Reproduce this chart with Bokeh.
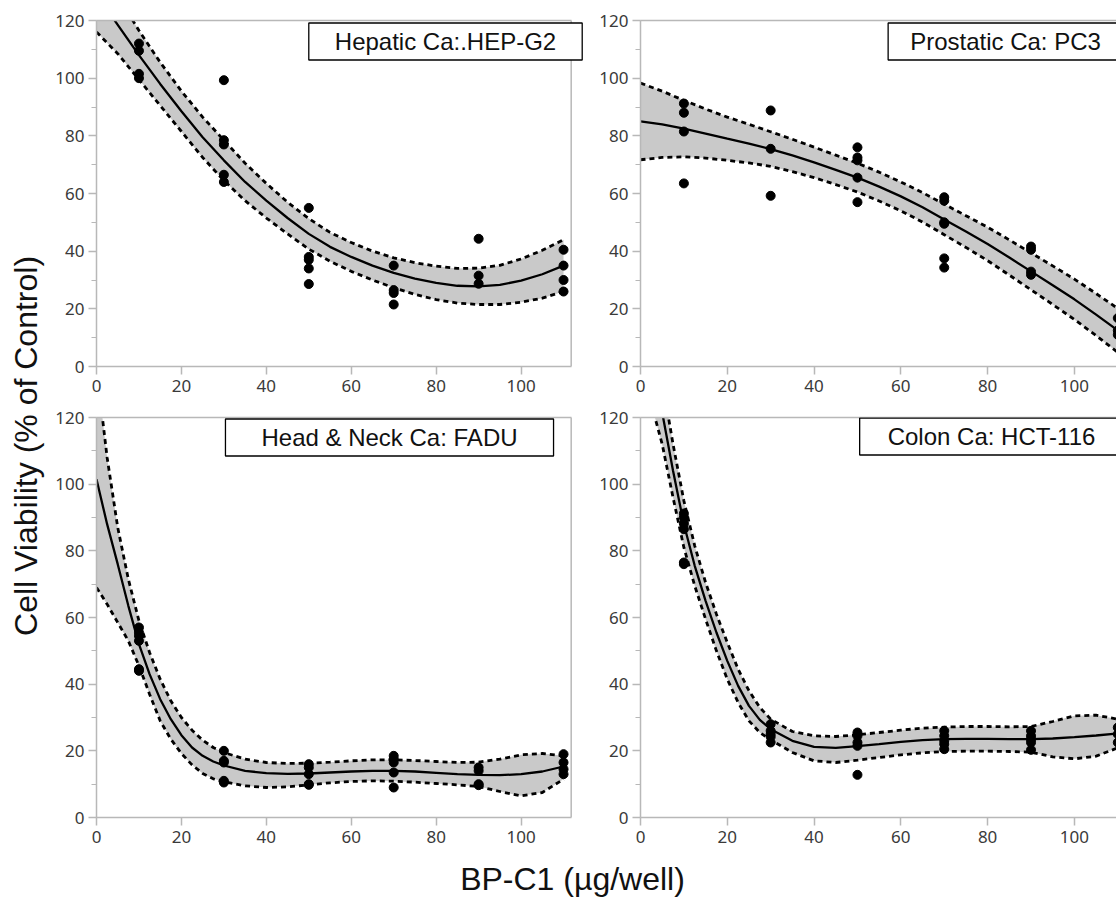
from bokeh.plotting import figure
from bokeh.layouts import row, column
from bokeh.models import Range1d, Label, SingleIntervalTicker, FixedTicker, LinearAxis, Span
from bokeh.embed import file_html
from bokeh.resources import INLINE

# ---------------- data ----------------
titles = ["Hepatic Ca:.HEP-G2", "Prostatic Ca: PC3", "Head & Neck Ca: FADU", "Colon Ca: HCT-116"]
x_label = "BP-C1 (µg/well)"
y_label = "Cell Viability  (% of Control)"

# Hepatic Ca: HEP-G2
hep_dose = [10, 10, 10, 10, 30, 30, 30, 30, 30, 50, 50, 50, 50, 50, 70, 70, 70, 70, 90, 90, 90, 110, 110, 110, 110]
hep_viab = [112, 109.5, 101.5, 100, 99.3, 78.5, 77, 66.5, 64, 55, 38, 37, 34, 28.6, 35, 26.5, 25.5, 21.5, 44.3, 31.5, 28.7, 40.5, 35, 30, 26]
hep_curve_x = [0, 5, 10, 15, 20, 25, 30, 35, 40, 45, 50, 55, 60, 65, 70, 75, 80, 85, 90, 95, 100, 105, 110]
hep_fit = [129, 118.5, 108, 98, 88.5, 79.5, 71.5, 64, 57.5, 51.5, 46, 41.5, 38, 35, 32.5, 30.5, 29, 28, 27.8, 28.3, 29.8, 32, 35]
hep_upper = [142, 128.5, 116.5, 105.5, 95.5, 86.5, 78.5, 70.5, 63.5, 57, 51.3, 46.5, 43, 40, 37.7, 36, 34.8, 34, 34.1, 35.1, 37.3, 40.3, 44]
hep_lower = [116, 108.5, 99.5, 90.5, 81.5, 72.5, 64.5, 57.5, 51.5, 46, 40.7, 36.5, 33, 30, 27.3, 25, 23.2, 22, 21.5, 21.5, 22.3, 23.7, 26]

# Prostatic Ca: PC3
pc3_dose = [10, 10, 10, 10, 30, 30, 30, 50, 50, 50, 50, 50, 70, 70, 70, 70, 70, 70, 90, 90, 90, 90, 110, 110, 110]
pc3_viab = [91.2, 88, 81.5, 63.5, 88.8, 75.5, 59.2, 76, 72.5, 71.5, 65.5, 57, 58.7, 57.5, 50, 49.5, 37.5, 34.3, 41.6, 40.5, 32.9, 31.8, 16.8, 12.5, 11]
pc3_curve_x = [0, 5, 10, 15, 20, 25, 30, 35, 40, 45, 50, 55, 60, 65, 70, 75, 80, 85, 90, 95, 100, 105, 110]
pc3_fit = [85, 84, 82.5, 80.8, 79, 77.3, 75.4, 73.2, 70.8, 68.2, 65.5, 62.4, 59, 55.2, 51, 46.8, 42.5, 37.8, 33, 28.2, 23.3, 18, 12.5]
pc3_upper = [98.3, 95.5, 92.3, 89.3, 86.5, 84.0, 81.4, 78.8, 76.1, 73.3, 70.5, 67.4, 64.0, 60.3, 56.3, 52.3, 48.3, 43.9, 39.4, 34.9, 30.3, 25.3, 20.1]
pc3_lower = [71.7, 72.5, 72.7, 72.3, 71.5, 70.6, 69.4, 67.6, 65.5, 63.1, 60.5, 57.4, 54.0, 50.1, 45.7, 41.3, 36.7, 31.7, 26.6, 21.5, 16.3, 10.7, 4.9]

# Head & Neck Ca: FADU
fadu_dose = [10, 10, 10, 10, 10, 10, 30, 30, 30, 30, 30, 50, 50, 50, 50, 50, 70, 70, 70, 70, 70, 90, 90, 90, 90, 110, 110, 110, 110]
fadu_viab = [57, 55.5, 54.5, 53, 44.5, 44, 20, 17, 16.5, 11, 10.5, 16, 15, 13, 10, 9.8, 18.5, 17.5, 16.5, 13.5, 9, 15, 14, 10, 9.7, 19, 16.5, 14.5, 13]
fadu_curve_x = [0, 2.5, 5, 7.5, 10, 12.5, 15, 17.5, 20, 22.5, 25, 27.5, 30, 35, 40, 45, 50, 55, 60, 65, 70, 75, 80, 85, 90, 95, 100, 105, 110]
fadu_fit = [101.5, 88, 76, 63.5, 52, 43, 35.5, 29.5, 24.7, 21, 18.5, 16.8, 15.6, 14, 13.3, 13.1, 13.2, 13.5, 13.8, 14, 14, 13.8, 13.4, 13, 12.8, 12.7, 13, 13.8, 15.3]
fadu_upper = [135, 108, 87, 71.5, 59, 49.5, 41.5, 35, 30, 26.2, 23.2, 21, 19.5, 17.5, 16.5, 16.2, 16.3, 16.6, 17, 17.3, 17.3, 17.1, 16.8, 16.5, 16.6, 17.5, 18.8, 19.2, 18.5]
fadu_lower = [69, 64, 58.5, 53, 45.5, 37, 29, 23.5, 19.2, 15.8, 13.2, 11.6, 10.7, 9.5, 9, 9.2, 9.8, 10.4, 10.8, 11, 10.9, 10.6, 10.2, 9.8, 9.3, 7.8, 6.5, 7.5, 11.5]

# Colon Ca: HCT-116
hct_dose = [10, 10, 10, 10, 10, 10, 30, 30, 30, 30, 30, 50, 50, 50, 50, 50, 70, 70, 70, 70, 70, 90, 90, 90, 90, 90, 110, 110, 110]
hct_viab = [91.2, 90, 88.2, 86.5, 76.5, 76, 28, 26, 25, 24.2, 22.5, 25.5, 24.5, 22.5, 21.5, 12.8, 26, 24.5, 23, 22, 20.5, 26, 24.5, 23.5, 22.5, 20.3, 27, 25, 22.5]
hct_curve_x = [0, 2.5, 5, 7.5, 10, 12.5, 15, 17.5, 20, 22.5, 25, 27.5, 30, 35, 40, 45, 50, 55, 60, 65, 70, 75, 80, 85, 90, 95, 100, 105, 110]
hct_fit = [158, 140, 121.5, 104, 88, 75.5, 65, 55.5, 47, 39.5, 33.5, 29.3, 26.5, 23, 21.2, 20.9, 21.4, 22, 22.7, 23.2, 23.5, 23.6, 23.6, 23.5, 23.5, 23.7, 24.1, 24.6, 25.2]
hct_upper = [170, 150, 131, 112, 95, 81.5, 70.5, 61, 52.5, 44.5, 38, 33, 29.5, 25.8, 24.5, 24.3, 24.8, 25.5, 26.2, 26.8, 27.1, 27.3, 27.3, 27.2, 27.3, 28.8, 30.5, 30.7, 29.5]
hct_lower = [140, 124, 112, 96, 81, 69.5, 59.5, 50, 41.5, 34.5, 29, 25.5, 23.3, 19.5, 17, 16.5, 17.2, 18, 18.8, 19.4, 19.8, 19.9, 19.9, 19.8, 19.6, 18.2, 17.6, 18.4, 20.9]

# ---------------- styling ----------------
AXIS_GRAY = "#b8b8b8"
TICK_FONT = "Noto Sans"
LABEL_FONT = "Liberation Sans"


def panel(width, height, borders, x_end, x_border, dose, viab, cx, fit, upper, lower,
          title, title_xy, title_pad):
    l, r, t, b = borders
    p = figure(width=width, height=height,
               x_range=Range1d(0, x_end), y_range=Range1d(0, 120),
               toolbar_location=None, output_backend="svg",
               min_border_left=l, min_border_right=r,
               min_border_top=t, min_border_bottom=b)
    p.xgrid.visible = False
    p.ygrid.visible = False
    p.outline_line_color = None
    p.background_fill_color = "white"
    p.border_fill_color = "white"
    p.xaxis.ticker = SingleIntervalTicker(interval=20, num_minor_ticks=0)
    p.yaxis.ticker = SingleIntervalTicker(interval=20, num_minor_ticks=2)
    for ax in (p.xaxis[0], p.yaxis[0]):
        ax.axis_line_color = AXIS_GRAY
        ax.axis_line_width = 1.5
        ax.major_tick_line_color = AXIS_GRAY
        ax.major_tick_line_width = 1.5
        ax.minor_tick_line_color = AXIS_GRAY
        ax.minor_tick_line_width = 1.2
        ax.major_tick_in = 0
        ax.minor_tick_in = 0
        ax.major_tick_out = 8
        ax.minor_tick_out = 5
        ax.major_label_text_font = TICK_FONT
        ax.major_label_text_font_size = "17px"
        ax.major_label_text_color = "#3a3a3a"
    p.xaxis.major_label_standoff = 5
    p.yaxis.major_label_standoff = 4

    # top frame border (as a bare axis) and right frame border
    top = LinearAxis(ticker=FixedTicker(ticks=[]), axis_line_color=AXIS_GRAY,
                     axis_line_width=1.5, major_tick_out=0, minor_tick_out=0,
                     major_label_standoff=0, major_label_text_font_size="0px")
    if x_border is not None:
        p.xaxis.bounds = (0, x_border)
        top.bounds = (0, x_border)
    p.add_layout(top, "above")

    p.varea(x=cx, y1=lower, y2=upper, fill_color="#c9c9c9")
    p.line(cx, upper, line_color="black", line_width=2.8, line_dash="5 4")
    p.line(cx, lower, line_color="black", line_width=2.8, line_dash="5 4")
    p.line(cx, fit, line_color="black", line_width=2.3)
    p.scatter(dose, viab, size=9, color="black")

    if x_border is not None:
        p.add_layout(Span(location=x_border, dimension="height",
                          line_color=AXIS_GRAY, line_width=1.5))

    lab = Label(x=title_xy[0], y=title_xy[1], x_units="screen", y_units="screen",
                text=title, text_font=LABEL_FONT, text_font_size="24px",
                text_color="#111111", text_align="center", text_baseline="middle",
                border_line_color="black", border_line_width=1.3,
                background_fill_color="white",
                padding=dict(left=title_pad, right=title_pad, top=5, bottom=5))
    p.add_layout(lab)
    return p


tl = panel(548, 400, (48, 13, 20, 34), 114.7, 111.8, hep_dose, hep_viab,
           hep_curve_x, hep_fit, hep_upper, hep_lower, titles[0], (349, 325), 26)
tr = panel(520, 400, (42, 0, 20, 34), 109.7, None, pc3_dose, pc3_viab,
           pc3_curve_x, pc3_fit, pc3_upper, pc3_lower, titles[1], (365, 325), 22)
bl = panel(548, 451, (48, 13, 17, 34), 114.7, 111.8, fadu_dose, fadu_viab,
           fadu_curve_x, fadu_fit, fadu_upper, fadu_lower, titles[2], (293, 380), 36)
br = panel(520, 451, (42, 0, 17, 34), 109.7, None, hct_dose, hct_viab,
           hct_curve_x, hct_fit, hct_upper, hct_lower, titles[3], (351, 381), 28)


def blank(width, height):
    p = figure(width=width, height=height, toolbar_location=None, output_backend="svg",
               x_axis_location=None, y_axis_location=None, min_border=0)
    for g in p.grid:
        g.visible = False
    p.outline_line_color = None
    p.border_fill_color = "white"
    return p


ylab = blank(48, 851)
ylab.add_layout(Label(x=25, y=410, x_units="screen", y_units="screen", text=y_label,
                      angle=90, angle_units="deg", text_font=LABEL_FONT,
                      text_font_size="32px", text_color="#111111",
                      text_align="center", text_baseline="middle"))

xlab = blank(1116, 47)
xlab.add_layout(Label(x=572, y=20, x_units="screen", y_units="screen", text=x_label,
                      text_font=LABEL_FONT, text_font_size="32px", text_color="#111111",
                      text_align="center", text_baseline="middle"))

layout = column(row(ylab, column(row(tl, tr), row(bl, br))), xlab)

open("out.html", "w").write(file_html(layout, INLINE))
